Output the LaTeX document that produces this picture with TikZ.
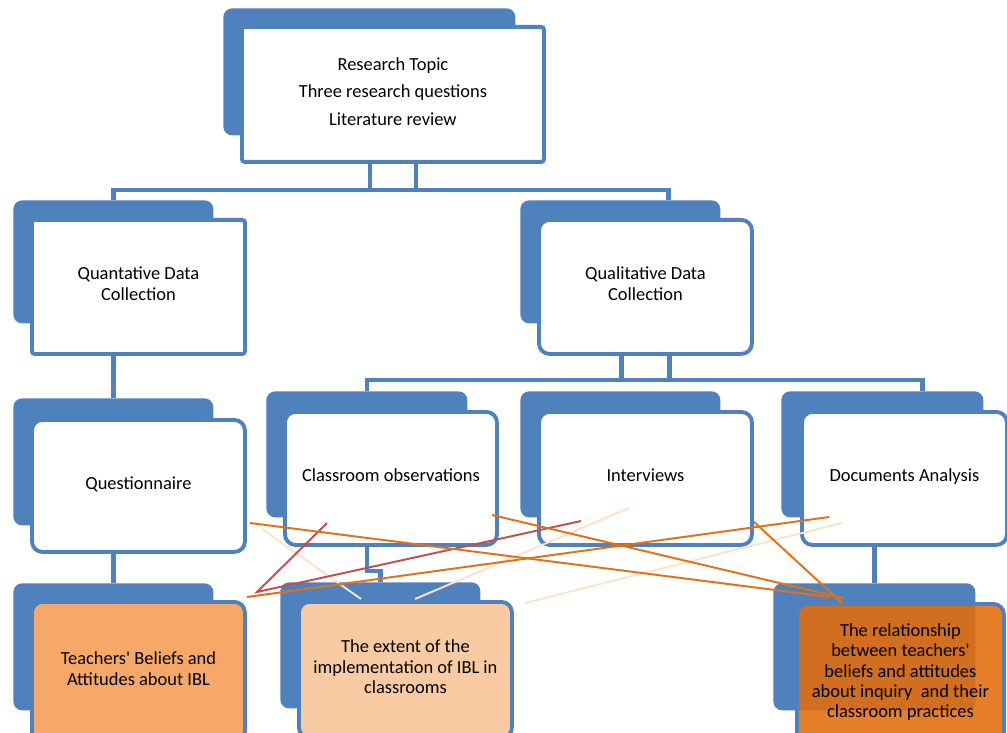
\documentclass[tikz,border=0pt]{standalone}
\usepackage{fontspec}
\setmainfont{Carlito}
\usetikzlibrary{calc}
\definecolor{boxblue}{RGB}{79,129,189}
\definecolor{beliefs}{RGB}{245,168,104}
\definecolor{extent}{RGB}{249,203,163}
\definecolor{relation}{RGB}{228,108,10}
\definecolor{strokeorange}{RGB}{228,112,20}
\definecolor{strokered}{RGB}{192,80,77}
\definecolor{strokefaint}{RGB}{252,226,204}

\tikzset{
  tab/.style={fill=boxblue, rounded corners=5pt, anchor=north west, inner sep=0pt},
  card/.style={draw=boxblue, line width=2.2pt, fill=white, rounded corners=6pt,
    anchor=north west, align=center, inner sep=2pt, font=\fontsize{10.5}{11.6}\selectfont,
    execute at end node={\rule[-3.6pt]{0pt}{3.6pt}}},
  link/.style={draw=boxblue, line width=2.6pt},
  stroke/.style={line width=1.1pt}
}

\begin{document}
\begin{tikzpicture}[x=0.02cm, y=-0.02cm]
  \def\u{0.02cm}

  \useasboundingbox (0,0) rectangle (1007,733);
  \clip (0,0) rectangle (1007,733);

  % top level
  \node[tab, minimum width=292*\u, minimum height=127*\u] (tab-top) at (223,8) {};
  \node[card, execute at end node={}, rounded corners=1.5pt, minimum width=302*\u, minimum height=135*\u] (top) at (240,25)
    {Research Topic\\[4pt] Three research questions\\[4pt] Literature review};

  % data collection
  \node[tab, minimum width=200*\u, minimum height=123*\u] (tab-quant) at (13,200) {};
  \node[card, rounded corners=1.5pt, minimum width=213*\u, minimum height=134*\u] (quant) at (30,218)
    {Quantative Data\\Collection};

  \node[tab, minimum width=200*\u, minimum height=123*\u] (tab-qual) at (520,200) {};
  \node[card, minimum width=213*\u, minimum height=134*\u] (qual) at (537,218)
    {Qualitative Data\\Collection};

  % instruments
  \node[tab, minimum width=200*\u, minimum height=127*\u] (tab-ques) at (13,398) {};
  \node[card, minimum width=213*\u, minimum height=132*\u] (ques) at (30,418) {Questionnaire};

  \node[tab, minimum width=201*\u, minimum height=126*\u] (tab-class) at (266,391) {};
  \node[card, minimum width=212*\u, minimum height=133*\u] (class) at (283,410) {Classroom observations};

  \node[tab, minimum width=200*\u, minimum height=126*\u] (tab-int) at (520,391) {};
  \node[card, minimum width=213*\u, minimum height=133*\u] (int) at (537,410) {Interviews};

  \node[tab, minimum width=202*\u, minimum height=126*\u] (tab-doc) at (781,391) {};
  \node[card, minimum width=205*\u, minimum height=133*\u] (doc) at (800,410) {Documents Analysis};

  % outcomes
  \node[tab, minimum width=200*\u, minimum height=127*\u] (tab-teach) at (13,583) {};
  \node[card, fill=beliefs, minimum width=213*\u, minimum height=140*\u] (teach) at (30,600)
    {Teachers\textquotesingle{} Beliefs and\\Attitudes about IBL};

  \node[tab, minimum width=200*\u, minimum height=126*\u] (tab-ext) at (280,582) {};
  \node[card, fill=extent, minimum width=213*\u, minimum height=136*\u] (ext) at (297,600)
    {The extent of the\\implementation of IBL in\\classrooms};

  \node[tab, minimum width=202*\u, minimum height=127*\u] (tab-rel) at (773,583) {};
  \node[card, fill=relation, fill opacity=0.88, text opacity=1, minimum width=207*\u, minimum height=140*\u] (rel) at (795,602)
    {The relationship\\between teachers\textquotesingle\\beliefs and attitudes\\about inquiry~ and their\\classroom practices};

  % connectors
  \draw[link] (tab-quant.north) |- ($(top.south)+(0,26)$) -| ($(tab-qual.north)+(48,0)$);
  \draw[link] ($(top.south)+(-23,0)$) -- ($(top.south)+(-23,26)$);
  \draw[link] ($(top.south)+(23,0)$) -- ($(top.south)+(23,26)$);

  \draw[link] (tab-class.north) |- ($(qual.south)+(0,24)$) -| ($(tab-doc.north)+(40,0)$);
  \draw[link] ($(qual.south)+(-24,0)$) -- ($(qual.south)+(-24,24)$);
  \draw[link] ($(qual.south)+(24,0)$) -- ($(qual.south)+(24,24)$);

  \draw[link] (quant.south -| tab-ques.north) -- (tab-ques.north);
  \draw[link] (ques.south -| tab-teach.north) -- (tab-teach.north);
  \draw[link] (class.south -| tab-class.north) -- ++(0,24) -| (tab-ext.north);
  \draw[link] (doc.south -| tab-rel.north) -- (tab-rel.north);

  % loose strokes
  \draw[stroke, strokefaint] (262,529) -- (361,599);
  \draw[stroke, strokefaint] (415,599) -- (629,508);
  \draw[stroke, strokefaint] (525,603) -- (842,523);
  \draw[stroke, strokered] (327,523) -- (257,592) -- (581,521);
  \draw[stroke, strokeorange] (250,523) -- (830,597);
  \draw[stroke, strokeorange] (247,597) -- (829,517);
  \draw[stroke, strokeorange] (492,515) -- (843,598);
  \draw[stroke, strokeorange] (753,521) -- (842,603);
\end{tikzpicture}
\end{document}
